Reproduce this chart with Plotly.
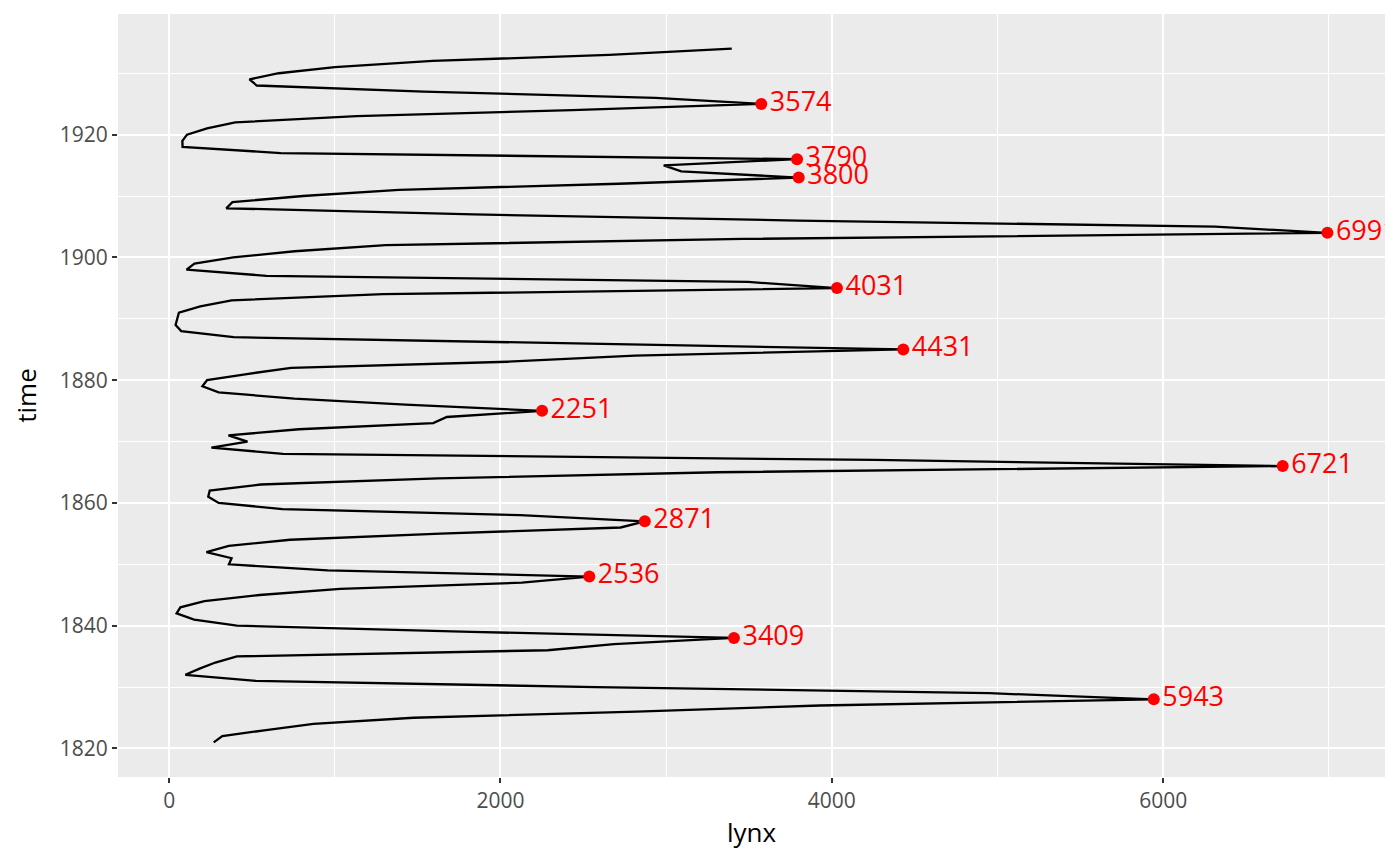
import plotly.graph_objects as go

# lynx trappings, 1821-1934
years = list(range(1821, 1935))
lynx = [269, 321, 585, 871, 1475, 2821, 3928, 5943, 4950, 2577,
        523, 98, 184, 279, 409, 2285, 2685, 3409, 1824, 409,
        151, 45, 68, 213, 546, 1033, 2129, 2536, 957, 361,
        377, 225, 360, 731, 1638, 2725, 2871, 2119, 684, 299,
        236, 245, 552, 1623, 3311, 6721, 4254, 687, 255, 473,
        358, 784, 1594, 1676, 2251, 1426, 756, 299, 201, 229,
        469, 736, 2042, 2811, 4431, 2511, 389, 73, 39, 49,
        59, 188, 377, 1292, 4031, 3495, 587, 105, 153, 387,
        758, 1307, 3465, 6991, 6313, 3794, 1836, 345, 382, 808,
        1388, 2713, 3800, 3091, 2985, 3790, 674, 81, 80, 108,
        229, 399, 1132, 2432, 3574, 2935, 1537, 529, 485, 662,
        1000, 1590, 2657, 3396]

# local peaks
peak_years = [1828, 1838, 1848, 1857, 1866, 1875, 1885, 1895, 1904, 1913, 1916, 1925]
peak_lynx = [lynx[years.index(y)] for y in peak_years]

fig = go.Figure()
fig.add_trace(go.Scatter(x=lynx, y=years, mode='lines',
                         line=dict(color='black', width=2.3), hoverinfo='skip'))
fig.add_trace(go.Scatter(x=peak_lynx, y=peak_years, mode='markers+text',
                         marker=dict(color='red', size=12),
                         text=[str(v) for v in peak_lynx], textposition='middle right',
                         textfont=dict(color='red', size=27), cliponaxis=True))

axis_style = dict(showgrid=True, gridcolor='white', gridwidth=2, zeroline=False,
                  ticks='outside', ticklen=5, tickwidth=2, tickcolor='#333333',
                  tickfont=dict(size=21, color='#4d4d4d'), showline=False,
                  automargin=False)
# page body has an 8px margin, so the figure is a bit smaller than the window
fig.update_layout(
    width=1392, height=858, showlegend=False,
    plot_bgcolor='#ebebeb', paper_bgcolor='white',
    font=dict(family='Open Sans', color='black'),
    margin=dict(l=110, r=15, t=6, b=89),
    xaxis=dict(range=[-308.6, 7338.6], tickvals=[0, 2000, 4000, 6000],
               minor=dict(tickvals=[1000, 3000, 5000, 7000], showgrid=True, gridcolor='white', gridwidth=1, ticks=''),
               title=dict(text='lynx', font=dict(size=26), standoff=10), **axis_style),
    yaxis=dict(range=[1815.35, 1939.65], tickvals=[1820, 1840, 1860, 1880, 1900, 1920],
               minor=dict(tickvals=[1830, 1850, 1870, 1890, 1910, 1930], showgrid=True, gridcolor='white', gridwidth=1, ticks=''),
               title=dict(text='time', font=dict(size=26), standoff=15), **axis_style),
)
fig.write_html("out.html")
